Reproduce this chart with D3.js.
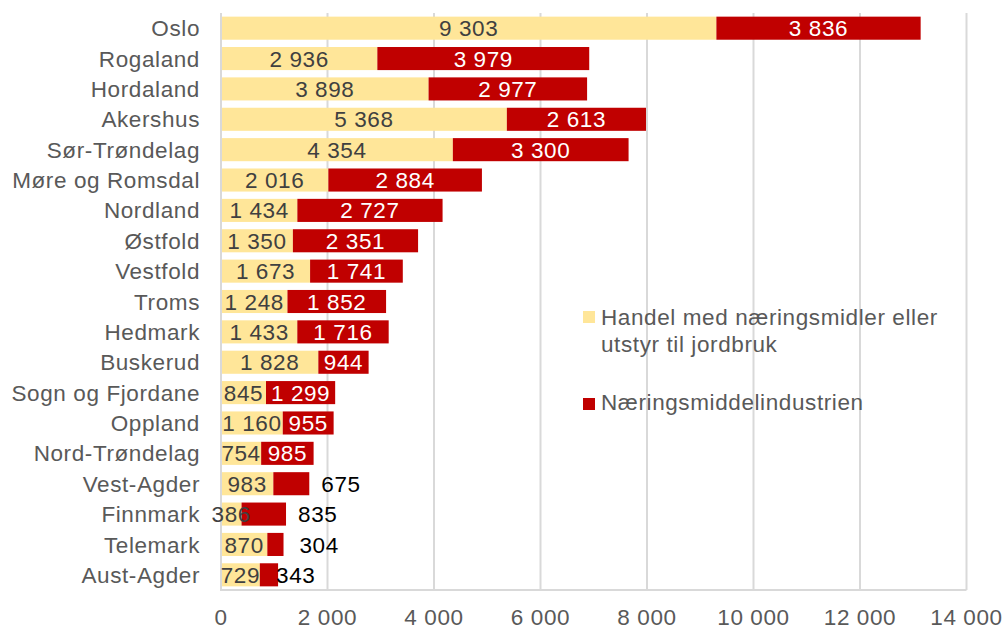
<!DOCTYPE html>
<html><head><meta charset="utf-8">
<script src="https://cdn.jsdelivr.net/npm/d3@7"></script>
<style>body{margin:0;background:#fff}svg{display:block}text{font-family:"Liberation Sans",Arial,sans-serif;letter-spacing:0.6px}</style>
</head><body><svg id="c" width="1002" height="630"></svg>
<script>
const categories = ["Oslo","Rogaland","Hordaland","Akershus","Sør-Trøndelag","Møre og Romsdal","Nordland","Østfold","Vestfold","Troms","Hedmark","Buskerud","Sogn og Fjordane","Oppland","Nord-Trøndelag","Vest-Agder","Finnmark","Telemark","Aust-Agder"];
const handel = [9303,2936,3898,5368,4354,2016,1434,1350,1673,1248,1433,1828,845,1160,754,983,386,870,729];
const industri = [3836,3979,2977,2613,3300,2884,2727,2351,1741,1852,1716,944,1299,955,985,675,835,304,343];
const seriesNames = ["Handel med næringsmidler eller utstyr til jordbruk","Næringsmiddelindustrien"];
const xTicks = [0,2000,4000,6000,8000,10000,12000,14000];

const colors = ["#FFE699","#C00000"];
const fs = 22.5;
const svg = d3.select("#c");
const loc = d3.formatLocale({decimal:",",thousands:" ",grouping:[3],currency:["","kr"]});
const fmt = loc.format(",d");

const x = d3.scaleLinear().domain([0,14000]).range([221,966.5]);
const y = d3.scaleBand().domain(categories).range([13,590]).paddingInner(0.24).paddingOuter(0.12);

// gridlines
svg.append("g").selectAll("line").data(xTicks.slice(1)).join("line")
  .attr("x1",d=>x(d)).attr("x2",d=>x(d)).attr("y1",13).attr("y2",590)
  .attr("stroke","#d9d9d9").attr("stroke-width",2);

const rows = categories.map((c,i)=>({c,a:handel[i],b:industri[i]}));

svg.append("g").selectAll("rect").data(rows).join("rect")
  .attr("x",x(0)).attr("y",d=>y(d.c)).attr("width",d=>x(d.a)-x(0)).attr("height",y.bandwidth()).attr("fill",colors[0]);
svg.append("g").selectAll("rect").data(rows).join("rect")
  .attr("x",d=>x(d.a)).attr("y",d=>y(d.c)).attr("width",d=>x(d.a+d.b)-x(d.a)).attr("height",y.bandwidth()).attr("fill",colors[1]);

// axis lines
svg.append("line").attr("x1",x(0)).attr("x2",x(0)).attr("y1",13).attr("y2",591).attr("stroke","#d9d9d9").attr("stroke-width",2);
svg.append("line").attr("x1",x(0)).attr("x2",966.5).attr("y1",590).attr("y2",590).attr("stroke","#d9d9d9").attr("stroke-width",2);

const cy = d=>y(d.c)+y.bandwidth()/2;
// labels handel
svg.append("g").selectAll("text").data(rows).join("text")
  .attr("x",d=>(x(0)+x(d.a))/2).attr("y",cy).attr("dy","0.36em")
  .attr("text-anchor","middle").attr("font-size",fs).attr("fill","#404040").text(d=>fmt(d.a));
// labels industri
const outside = {"Vest-Agder":12,"Finnmark":12,"Telemark":16,"Aust-Agder":-2};
svg.append("g").selectAll("text").data(rows).join("text")
  .attr("x",d=> d.c in outside ? x(d.a+d.b)+outside[d.c] : (x(d.a)+x(d.a+d.b))/2)
  .attr("y",cy).attr("dy","0.36em")
  .attr("text-anchor",d=> d.c in outside ? "start":"middle")
  .attr("font-size",fs).attr("fill",d=> d.c in outside ? "#000":"#fff").text(d=>fmt(d.b));

// category labels
svg.append("g").selectAll("text").data(categories).join("text")
  .attr("x",200).attr("y",d=>y(d)+y.bandwidth()/2).attr("dy","0.36em")
  .attr("text-anchor","end").attr("font-size",fs).attr("fill","#595959").text(d=>d);

// x tick labels
svg.append("g").selectAll("text").data(xTicks).join("text")
  .attr("x",d=>x(d)).attr("y",625).attr("text-anchor","middle")
  .attr("font-size",fs).attr("fill","#595959").text(d=>fmt(d));

// legend
const lg = svg.append("g");
lg.append("rect").attr("x",583).attr("y",311).attr("width",12).attr("height",12).attr("fill",colors[0]);
const t1 = lg.append("text").attr("x",601).attr("y",325).attr("font-size",fs).attr("fill","#595959");
t1.append("tspan").attr("x",601).text("Handel med næringsmidler eller");
t1.append("tspan").attr("x",601).attr("dy",27).text("utstyr til jordbruk");
lg.append("rect").attr("x",583).attr("y",398).attr("width",12).attr("height",12).attr("fill",colors[1]);
lg.append("text").attr("x",601).attr("y",410).attr("font-size",fs).attr("fill","#595959").text(seriesNames[1]);
</script></body></html>
